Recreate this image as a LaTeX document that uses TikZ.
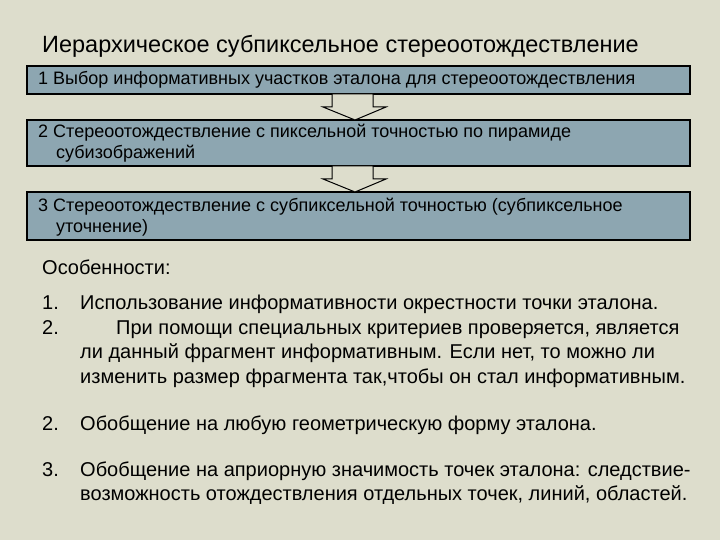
\documentclass[tikz,border=0pt]{standalone}
\usepackage{fontspec}
\setmainfont{Liberation Sans}
\definecolor{bg}{HTML}{DDDDCC}
\definecolor{boxc}{HTML}{8DA6B1}
\begin{document}
\begin{tikzpicture}[x=1pt,y=-1pt,
  stepbox/.style={draw=black,line width=1.2pt,fill=boxc},
  btxt/.style={anchor=base west,font=\fontsize{18}{21}\selectfont,inner sep=0pt,align=left},
  body/.style={anchor=base west,font=\fontsize{20}{24}\selectfont,inner sep=0pt}, 
  harrow/.style={draw=black,line width=1pt,fill=bg}]
\fill[bg] (0,0) rectangle (720,540);
\node[anchor=base west,inner sep=0pt,font=\fontsize{23.5}{26}\selectfont] (title) at (42,53) {Иерархическое субпиксельное стереоотождествление};
\draw[stepbox] (27,66) rectangle (690,94);
\node[btxt] (t1) at (38,85) {1 Выбор информативных участков эталона для стереоотождествления};
\draw[stepbox] (27,120) rectangle (690,166);
\node[btxt] (t2) at (38,159) {2 Стереоотождествление с пиксельной точностью по пирамиде\\\hspace*{18pt}субизображений};
\draw[stepbox] (27,192) rectangle (690,240);
\node[btxt] (t3) at (38,233) {3 Стереоотождествление с субпиксельной точностью (субпиксельное\\\hspace*{18pt}уточнение)};
\foreach \y in {94,166}{
 \draw[harrow] (332,\y) -- (373,\y) -- (373,\y+13) -- (386,\y+13) -- (355,\y+26) -- (323,\y+13) -- (332,\y+13) -- cycle;
}
\node[body] (o) at (42,274) {Особенности:};
\node[body] (n1) at (42,309) {1.};
\node[body] (l1) at (80,309) {Использование информативности окрестности точки эталона.};
\node[body] (n2) at (42,334) {2.};
\node[body] (l2) at (116,334) {При помощи специальных критериев проверяется, является};
\node[body] (l3) at (80,358) {ли данный фрагмент информативным. Если нет, то можно ли};
\node[body] (l4) at (80,383) {изменить размер фрагмента так,чтобы он стал информативным.};
\node[body] (n3) at (42,430) {2.};
\node[body] (l5) at (80,430) {Обобщение на любую геометрическую форму эталона.};
\node[body] (n4) at (42,476) {3.};
\node[body] (l6) at (80,476) {Обобщение на априорную значимость точек эталона: следствие-};
\node[body] (l7) at (80,500) {возможность отождествления отдельных точек, линий, областей.};
\end{tikzpicture}
\end{document}
